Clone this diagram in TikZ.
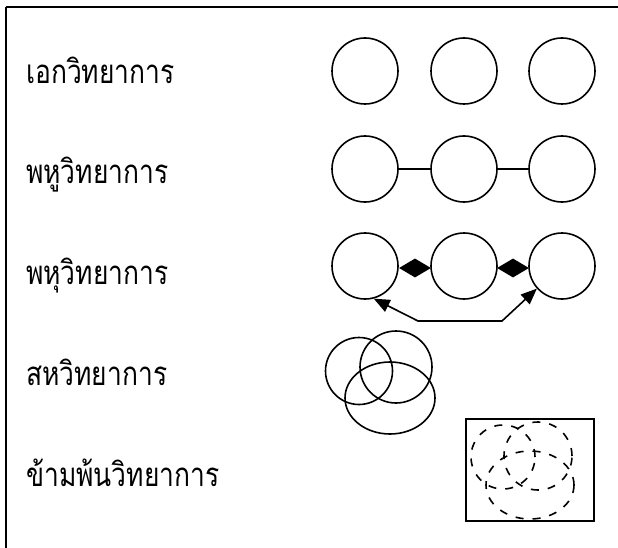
\documentclass[tikz,border=0pt]{standalone}
\usepackage{fontspec}
\newfontfamily\thaifont[Script=Thai, FakeStretch=0.8]{Loma}
\usetikzlibrary{shapes.geometric,arrows.meta}

\tikzset{
  ball/.style={draw, circle, line width=1.6pt, minimum size=66pt, inner sep=0pt},
  dball/.style={draw, circle, line width=1.6pt, dash pattern=on 8pt off 9pt, inner sep=0pt},
  gem/.style={diamond, fill=black, inner sep=0pt, minimum width=32pt, minimum height=19pt},
  lbl/.style={anchor=base west, inner sep=0pt, font=\thaifont\fontsize{33}{36}\selectfont}
}

\begin{document}
\begin{tikzpicture}[x=1pt, y=-1pt]

\useasboundingbox (0,0) rectangle (618,548);
\fill[white] (0,0) rectangle (618,548);

% frame (top and left edges only)
\draw[line width=2.5pt] (6,7) -- (618,7);
\draw[line width=2pt] (6,7) -- (6,548);

% labels
\node (lblMono) at (26, 84) [lbl] {เอกวิทยาการ};
\node (lblMulti) at (26, 184) [lbl] {พหูวิทยาการ};
\node (lblMultiB) at (26, 284) [lbl] {พหุวิทยาการ};
\node (lblInter) at (26, 385) [lbl] {สหวิทยาการ};
\node (lblTrans) at (26, 486) [lbl] {ข้ามพ้นวิทยาการ};

% row 1
\node (a1) at (365, 71) [ball] {};
\node (a2) at (464, 71) [ball] {};
\node (a3) at (562, 71) [ball] {};

% row 2
\node (b1) at (365, 169) [ball] {};
\node (b2) at (464, 169) [ball] {};
\node (b3) at (562, 169) [ball] {};
\draw [line width=1.6pt] (b1) -- (b2);
\draw [line width=1.6pt] (b2) -- (b3);

% row 3
\node (c1) at (365, 266) [ball] {};
\node (c2) at (464, 266) [ball] {};
\node (c3) at (562, 266) [ball] {};
\node (d1) at (415, 268) [gem] {};
\node (d2) at (513, 268) [gem] {};
\coordinate (bendL) at (418, 321);
\coordinate (bendR) at (502, 321);
\draw [line width=1.6pt, {Triangle[length=16pt,width=13pt]}-{Triangle[length=16pt,width=13pt]}]
  (c1.-75) -- (bendL) -- (bendR) -- (c3.-138);

% row 4
\node (v1) at (359, 371) [draw, circle, line width=1.6pt, minimum size=67pt, inner sep=0pt] {};
\node (v2) at (396, 367) [draw, circle, line width=1.6pt, minimum size=72pt, inner sep=0pt] {};
\node (v3) at (390, 398) [draw, ellipse, line width=1.6pt, minimum width=90pt, minimum height=72pt, inner sep=0pt] {};

% row 5
\node (xbox) at (530, 470) [draw, line width=1.8pt, minimum width=128pt, minimum height=102pt, inner sep=0pt] {};
\node (w1) at (503, 457) [dball, minimum size=64pt] {};
\node (w2) at (538, 456) [dball, minimum size=68pt] {};
\node (w3) at (530, 485) [dball, ellipse, minimum width=88pt, minimum height=68pt] {};

\end{tikzpicture}
\end{document}
